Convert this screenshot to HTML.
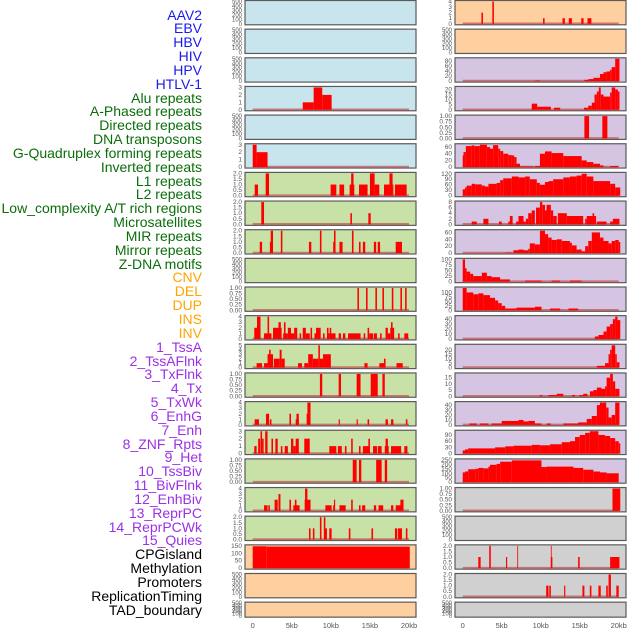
<!DOCTYPE html>
<html><head><meta charset="utf-8"><style>
html,body{margin:0;padding:0;background:#fff;}
#wrap{position:relative;width:630px;height:630px;overflow:hidden;}
.lab{position:absolute;right:428px;font-family:"Liberation Sans",sans-serif;font-size:14px;line-height:14px;white-space:nowrap;}
</style></head><body>
<div id="wrap">
<svg id="svg" width="630" height="630" style="position:absolute;left:0;top:0"></svg>
</div>
<script>
const labelNames=["AAV2","EBV","HBV","HIV","HPV","HTLV-1","Alu repeats","A-Phased repeats","Directed repeats","DNA transposons","G-Quadruplex forming repeats","Inverted repeats","L1 repeats","L2 repeats","Low_complexity A/T rich regions","Microsatellites","MIR repeats","Mirror repeats","Z-DNA motifs","CNV","DEL","DUP","INS","INV","1_TssA","2_TssAFlnk","3_TxFlnk","4_Tx","5_TxWk","6_EnhG","7_Enh","8_ZNF_Rpts","9_Het","10_TssBiv","11_BivFlnk","12_EnhBiv","13_ReprPC","14_ReprPCWk","15_Quies","CPGisland","Methylation","Promoters","ReplicationTiming","TAD_boundary"];
const labelGroups=[0,0,0,0,0,0,1,1,1,1,1,1,1,1,1,1,1,1,1,2,2,2,2,2,3,3,3,3,3,3,3,3,3,3,3,3,3,3,3,4,4,4,4,4];
const groupColors=["#1a1aee","#0a6e0a","#ffa500","#9b30e6","#000000"];
const xTicks=[0,5,10,15,20];
const xTickLabels=["0","5kb","10kb","15kb","20kb"];

const L3=[[6.4,7.8,1],[7.8,8.9,3],[8.9,10.1,2]];
const L5=[[0,0.5,3],[0.5,1.9,2]];
const L6=[[0.26,0.68,1],[1.66,2.09,2],[9.97,10.7,1],[11.1,11.7,1],[12.4,13.0,1],[12.6,12.9,2],[13.6,14.7,1],[15.0,15.6,2],[15.6,16.2,1],[16.8,17.5,1],[17.5,17.9,2],[17.9,18.0,1],[18.2,19.7,1]];
const L7=[[1.1,1.45,2],[12.5,12.7,1],[14.8,15.1,1]];
const L8=[[0.9,1.2,1],[2.2,2.4,1],[2.3,2.6,2],[3.6,3.8,2],[7.2,7.5,1],[8.6,8.8,2],[10.3,10.5,1],[10.4,10.6,2],[11.1,11.5,1],[12.7,12.9,2],[13.6,13.8,1],[14.1,14.4,1],[15.5,15.8,1],[16.0,16.3,1],[18.3,19.1,1]];
const L10=[[13.4,13.6,1],[14.5,14.7,1],[15.7,15.9,1],[16.6,16.8,1],[17.8,18.0,1],[18.9,19.1,1],[19.5,19.7,1]];
const L11=[[0.2,1.0,2],[0.55,1.0,4],[1.45,2.4,1],[1.9,2.1,4],[2.6,3.7,2],[3.3,3.6,3],[4.0,4.2,3],[3.9,4.5,1],[4.5,4.9,2],[4.9,5.3,1],[5.3,5.7,2],[6.0,6.2,1],[6.4,6.8,2],[6.8,7.3,1],[7.4,7.6,2],[7.9,8.1,1],[8.1,8.7,2],[9.0,9.2,1],[9.5,9.7,2],[9.7,10.6,1],[9.85,10.05,2],[11.0,11.3,1],[11.55,11.85,1],[12.2,13.8,1],[14.2,14.4,1],[14.7,14.9,2],[14.9,15.4,1],[15.5,15.9,1],[16.3,16.5,1],[17.0,17.3,2],[17.3,17.6,1],[17.6,18.1,2],[17.7,17.9,3],[18.6,18.8,1],[19.4,19.9,1]];
const L12=[[0.5,1.2,1],[1.45,1.9,1],[1.9,2.6,3],[2.1,2.3,4],[2.7,3.45,2],[3.45,3.7,4],[3.7,4.1,2],[5.8,6.3,1],[6.6,7.1,1],[7.1,7.7,3],[7.7,8.4,2],[8.4,8.6,5],[8.6,9.0,2],[9.0,10.0,3],[14.3,14.7,1],[16.2,16.9,1],[16.8,17.0,2],[18.4,19.2,1]];
const L13=[[8.6,8.9,1],[11.0,11.3,1],[13.3,13.8,1],[15.1,16.0,1],[16.6,16.9,1]];
const L14=[[0.25,0.8,1],[1.7,2.1,2],[2.2,2.4,1],[4.7,4.9,2],[5.5,5.9,1],[5.6,5.9,2],[6.9,7.1,2],[7.0,7.4,4],[11.0,11.15,1],[13.3,13.45,1],[14.7,14.9,1],[17.0,17.3,1],[17.7,18.0,1],[19.6,19.8,1]];
const L15=[[0.2,0.5,1],[0.7,0.95,2],[1.0,1.2,3],[1.2,1.4,2],[1.6,1.9,3],[2.4,2.6,2],[2.9,3.2,2],[3.6,3.8,1],[4.1,4.5,1],[4.9,5.2,2],[5.2,5.5,1],[5.5,5.9,2],[6.6,7.3,2],[9.8,10.7,1],[10.9,11.4,1],[11.8,12.0,1],[12.6,12.8,2],[13.6,13.8,1],[14.1,15.0,1],[14.8,15.0,2],[15.4,15.9,1],[16.0,16.5,1],[16.9,17.4,1],[17.0,17.3,2],[17.7,19.0,1],[19.4,19.8,1]];
const L16=[[12.8,13.3,1],[13.6,13.9,1],[15.8,16.5,1],[16.9,17.2,1]];
const L17=[[1.45,1.9,1],[2.0,2.2,1],[2.8,3.2,2],[3.3,3.55,3],[4.7,4.9,2],[5.2,5.5,1],[5.4,5.6,2],[5.5,6.0,1],[6.65,7.0,2],[6.7,7.0,4],[7.0,7.4,2],[9.3,10.1,1],[10.3,10.5,1],[10.4,10.55,2],[11.1,11.9,1],[12.6,12.8,2],[13.6,13.8,1],[14.0,14.4,1],[15.5,15.8,1],[16.1,16.7,1],[17.7,18.0,1],[18.3,19.0,1],[18.9,19.3,2]];
const L18=[[7.2,7.4,1],[7.7,7.9,1],[8.6,8.8,2],[9.1,9.3,2],[9.2,9.5,1],[9.8,10.1,1],[12.3,12.5,1],[15.2,15.4,1],[18.2,18.5,1],[18.6,19.1,1],[19.6,19.8,1]];
const L19=[[0,1.8,147],[1.8,20.1,145]];

const R0=[[2.4,2.6,2],[3.8,4.0,4],[10.3,10.5,1],[12.8,13.1,1],[13.6,14.0,1],[15.2,15.5,1],[16.0,16.5,1]];
const R2=[[9.3,9.9,2],[15.6,16.1,5],[16.1,16.75,8],[16.75,17.6,13],[17.6,18.05,28],[18.05,18.45,35],[18.45,18.9,38],[18.9,19.1,45],[19.1,19.55,55],[19.55,20.1,88]];
const R3=[[8.85,9.55,6],[9.55,10.1,3],[10.1,11.3,3],[11.7,12.5,2],[15.55,16.1,2],[16.1,16.55,4],[16.55,16.9,7],[16.9,17.2,15],[17.2,17.45,18],[17.45,17.7,22],[17.7,18.05,15],[18.05,18.9,13],[18.9,19.1,17],[19.1,19.55,22],[19.55,19.9,20],[19.9,20.1,18]];
const R4=[[15.6,16.2,1],[17.9,18.55,1]];
const R5=[[0,0.1,35],[0.1,0.4,45],[0.4,1.15,63],[1.15,1.5,65],[1.5,2.2,63],[2.2,3.1,67],[3.1,3.5,60],[3.5,3.9,55],[3.9,4.55,66],[4.55,4.8,55],[4.8,5.2,48],[5.2,5.85,40],[5.85,6.3,36],[6.3,6.6,35],[6.6,6.9,30],[6.9,7.35,10],[7.35,7.85,2],[7.85,9.05,2],[9.25,9.9,3],[9.9,10.55,40],[10.55,11.4,47],[11.4,12.9,42],[12.9,15.25,33],[15.25,15.9,20],[15.9,16.75,15],[16.75,17.6,10],[17.6,18.05,5],[18.9,20.0,3]];
const R6=[[0,0.3,35],[0.3,0.5,45],[0.5,1.15,55],[1.15,1.6,65],[1.6,2.45,62],[2.45,2.85,55],[2.85,3.3,50],[3.3,4.35,65],[4.35,4.8,70],[4.8,5.2,85],[5.2,6.3,95],[6.3,7.15,105],[7.15,8.0,100],[8.0,8.6,105],[8.6,9.5,90],[9.5,9.9,70],[9.9,10.55,60],[10.55,11.0,75],[11.0,11.6,80],[11.6,12.9,90],[12.9,13.75,100],[13.75,14.6,105],[14.6,15.25,110],[15.25,15.9,120],[15.9,16.75,105],[16.75,17.6,80],[17.6,18.9,80],[18.9,19.55,65],[19.55,20.2,45]];
const R7=[[1.15,1.8,1],[2.65,3.3,2],[4.65,5.0,1],[5.85,6.05,1],[6.05,6.4,3],[6.85,7.15,1],[7.15,7.8,3],[7.8,8.1,1],[8.1,8.4,2],[8.4,8.85,4],[8.85,9.25,5],[9.4,9.9,6],[9.9,10.2,8],[10.2,10.55,7],[10.55,10.85,5],[10.75,11.3,7],[11.3,11.6,5],[11.6,12.05,3],[12.2,13.35,4],[13.35,15.45,3],[15.7,15.9,2],[15.9,17.1,3],[16.65,16.85,4],[17.2,18.45,1],[18.9,19.25,1],[19.25,20.1,2]];
const R8=[[5.45,6.3,1],[6.5,7.15,8],[7.15,7.8,10],[7.8,8.4,8],[8.4,8.6,12],[8.6,9.25,28],[9.25,9.9,25],[9.9,10.55,65],[10.55,10.95,55],[10.95,11.4,45],[11.4,12.05,38],[12.05,12.7,40],[12.7,13.75,35],[13.75,14.0,30],[14.0,14.6,22],[14.6,15.25,10],[15.25,15.7,5],[15.7,16.1,20],[16.1,16.55,35],[16.55,17.6,60],[17.6,18.05,45],[18.05,18.7,35],[18.7,19.1,28],[19.1,19.55,35],[19.55,20.0,38],[20.0,20.2,32]];
const R9=[[0,0.3,100],[0.3,0.5,60],[0.5,0.95,45],[0.95,1.35,35],[1.35,2.45,25],[2.45,3.1,40],[3.1,3.7,25],[3.7,4.8,20],[4.8,6.05,10],[8.0,10.1,5],[11.4,12.5,5],[13.75,15.25,5]];
const R10=[[0,0.5,125],[0.5,1.35,100],[1.35,2.0,90],[2.0,2.65,95],[2.65,3.5,85],[3.5,4.15,70],[4.15,4.55,55],[4.55,5.0,40],[5.0,5.45,25],[5.45,6.9,10],[6.9,9.25,15],[9.25,10.1,20],[11.2,12.5,10],[13.55,14.8,10]];
const R11=[[16.95,17.4,5],[17.4,18.05,8],[18.05,18.45,15],[18.45,18.9,25],[18.9,19.25,30],[19.25,19.55,40],[19.55,19.85,45],[19.85,20.2,38]];
const R12=[[17.2,18.25,2],[18.25,18.7,5],[18.7,18.9,15],[18.9,19.1,20],[19.1,19.55,25],[19.55,19.75,15],[19.75,20.1,6]];
const R13=[[9.9,10.2,1],[11.0,12.05,1],[12.05,12.9,2],[14.0,14.4,1],[14.95,15.45,1],[15.45,16.0,2],[16.3,16.75,4],[16.75,17.2,5],[17.2,17.8,7],[17.8,18.25,6],[18.25,18.45,8],[18.45,18.9,15],[18.9,19.25,18],[19.25,19.55,12],[19.55,20.1,6]];
const R14=[[0.85,1.8,3],[2.2,3.3,3],[3.7,5.0,3],[5.0,7.15,8],[7.15,7.8,10],[7.8,8.4,7],[8.4,9.25,8],[9.25,10.1,3],[10.75,11.3,3],[12.9,14.8,3],[14.8,15.9,5],[15.9,16.55,12],[16.55,17.2,18],[17.2,17.6,40],[17.6,18.4,45],[18.4,18.7,35],[18.7,19.1,15],[19.1,19.55,20],[19.55,20.1,45]];
const R15=[[0,0.3,15],[0.3,0.7,20],[0.7,4.15,25],[4.15,5.45,30],[5.45,6.5,35],[6.5,8.85,38],[8.85,9.9,42],[9.9,11.2,40],[11.2,12.7,45],[12.7,13.75,55],[13.75,14.4,60],[14.4,15.0,80],[15.0,15.7,90],[15.7,16.3,100],[16.3,17.4,108],[17.4,18.25,90],[18.25,18.9,85],[18.9,19.55,75],[19.55,20.0,60],[20.0,20.2,50]];
const R16=[[0,0.3,110],[0.3,0.7,120],[0.7,1.6,145],[1.6,2.0,150],[2.0,2.65,160],[2.65,3.3,155],[3.3,3.5,175],[3.5,4.35,195],[4.35,4.8,205],[4.8,6.3,230],[6.3,10.1,245],[10.1,10.75,170],[10.75,14.2,175],[14.2,15.45,160],[15.45,16.75,140],[16.75,17.6,120],[17.6,18.45,110],[18.45,20.0,100]];
const R17=[[19.2,20.2,1]];
const R19=[[2.0,2.3,1],[3.4,3.6,2],[5.55,5.7,1],[7.0,7.1,2],[11.3,11.5,1],[11.3,11.4,2],[14.8,15.0,1],[18.9,20.1,1]];
const R20=[[10.7,11.0,1],[11.1,11.3,1],[13.0,13.15,1],[15.35,15.6,1],[16.3,16.5,1],[17.4,17.7,1],[18.4,18.6,1],[18.7,19.0,2],[19.7,20.0,1]];

const T500=[0,100,200,300,400,500], T1=[0,0.25,0.5,0.75,1], T2=[0,0.5,1,1.5,2];
const leftPanels=[
 ["blue",500,T500,null],["blue",500,T500,null],["blue",500,T500,null],["blue",3,[0,1,2,3],L3],["blue",500,T500,null],["blue",3,[0,1,2,3],L5],
 ["green",2,T2,L6],["green",2,T2,L7],["green",2,T2,L8],["green",500,T500,null],["green",1,T1,L10],["green",4,[0,1,2,3,4],L11],
 ["green",5,[0,1,2,3,4,5],L12],["green",1,T1,L13],["green",4,[0,1,2,3,4],L14],["green",3,[0,1,2,3],L15],["green",1,T1,L16],["green",4,[0,1,2,3,4],L17],
 ["green",2,T2,L18],["orange",150,[0,50,100,150],L19],["orange",500,T500,null],["orange",500,T500,null]];
const rightPanels=[
 ["orange",4,[0,1,2,3,4],R0],["orange",500,T500,null],["purple",88,[0,20,40,60,80],R2],["purple",22,[0,5,10,15,20],R3],["purple",1,T1,R4],["purple",67,[0,20,40,60],R5],
 ["purple",122,[0,30,60,90,120],R6],["purple",8,[0,2,4,6,8],R7],["purple",65,[0,20,40,60],R8],["purple",100,[0,25,50,75,100],R9],["purple",125,[0,25,50,75,100],R10],
 ["purple",45,[0,10,20,30,40],R11],["purple",25,[0,5,10,15,20],R12],["purple",18,[0,5,10,15],R13],["purple",45,[0,10,20,30,40],R14],["purple",108,[0,30,60,90],R15],
 ["purple",250,[0,50,100,150,200,250],R16],["gray",1,T1,R17],["gray",500,T500,null],["gray",2,T2,R19],["gray",2,T2,R20],["gray",500,T500,null]];

const BG={blue:"#c8e4ec",green:"#c8e1a6",orange:"#fecf9f",purple:"#d5c5e2",gray:"#d0d0d0"};
const NS="http://www.w3.org/2000/svg";
const svg=document.getElementById("svg");
const wrap=document.getElementById("wrap");
function mk(tag,attrs){const e=document.createElementNS(NS,tag);for(const k in attrs)e.setAttribute(k,attrs[k]);return e;}
function colX(col){return col===0?{px:245,pw:171,x0:252.7,x20:409}:{px:455,pw:171,x0:462.7,x20:618.7};}
function rowY(row){const top=0.5+28.65*row;const h=row===21?15:24.3;return {top:top,h:h};}
function xScale(col,kb){const c=colX(col);return c.x0+(c.x20-c.x0)*kb/20;}
function yScale(row,max,v){const r=rowY(row);return r.top+r.h-1-(v/max)*(r.h-2);}
function fmt(t,ticks){const m=ticks[ticks.length-1];if(m===1)return t.toFixed(2);if(m===2)return t.toFixed(1);return String(t);}

function drawPanel(col,row,p){
  const [bg,max,ticks,segs]=p;const c=colX(col),r=rowY(row);
  const g=mk("g",{});
  
  
  const rect=mk("rect",{x:c.px,y:r.top,width:c.pw,height:r.h,fill:BG[bg],stroke:"#5a5a5a","stroke-width":1.2});
  
  
  g.appendChild(rect);
  ticks.forEach(t=>{
    const y=yScale(row,max,t);
    const tx=mk("text",{x:c.px-3,y:y+2,"font-size":(max===500?6:6.5),"text-anchor":"end",fill:"#555","font-family":"Liberation Sans, sans-serif"});
    tx.textContent=fmt(t,ticks);
    
    
    g.appendChild(tx);
  });
  if(segs){
    const base=mk("line",{x1:xScale(col,0),x2:xScale(col,20),y1:r.top+r.h-1.3,y2:r.top+r.h-1.3,stroke:"#c05050","stroke-width":2,opacity:0.7});
    
    
    g.appendChild(base);
    segs.forEach(s=>{
      const x1=xScale(col,s[0]),x2=xScale(col,s[1]);const y=yScale(row,max,s[2]);const yb=yScale(row,max,0);
      const b=mk("rect",{x:x1,y:y,width:Math.max(0.8,x2-x1),height:yb-y,fill:"#ff0000"});
      
      
      g.appendChild(b);
    });
  }
  svg.appendChild(g);
}
leftPanels.forEach((p,i)=>drawPanel(0,i,p));
rightPanels.forEach((p,i)=>drawPanel(1,i,p));
[0,1].forEach(col=>{
  xTicks.forEach((t,i)=>{
    const tx=mk("text",{x:xScale(col,t),y:628,"font-size":7.5,"text-anchor":"middle",fill:"#555","font-family":"Liberation Sans, sans-serif"});
    tx.textContent=xTickLabels[i];
    
    
    svg.appendChild(tx);
  });
});
labelNames.forEach((n,i)=>{
  const d=document.createElement("div");
  d.className="lab";
  d.style.top=(15+13.84*i-7.5)+"px";
  d.style.color=groupColors[labelGroups[i]];
  d.textContent=n;
  
  
  wrap.appendChild(d);
});
</script>
</body></html>
